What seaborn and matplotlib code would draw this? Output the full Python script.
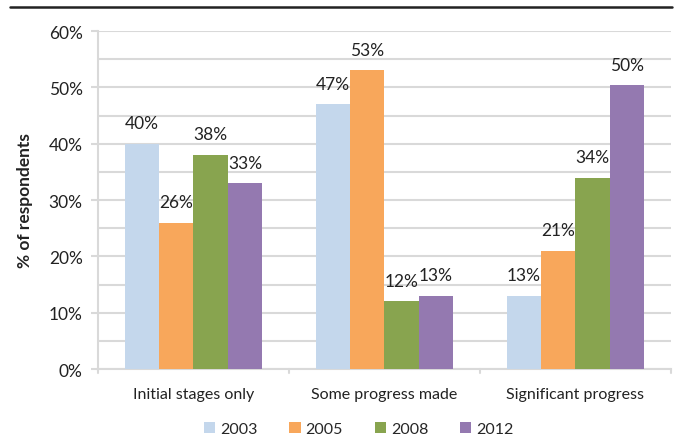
import matplotlib
matplotlib.use("Agg")
import matplotlib.pyplot as plt
import matplotlib.lines as mlines
import matplotlib.patches as mpatches
import seaborn as sns
import pandas as pd

categories = ["Initial stages only", "Some progress made", "Significant progress"]
years = ["2003", "2005", "2008", "2012"]
v2003 = [40, 47, 13]
v2005 = [26, 53, 21]
v2008 = [38, 12, 34]
v2012 = [33, 13, 50.4]
colors = ["#C4D7EC", "#F8A75B", "#88A44F", "#9479B0"]
yticks = [0, 10, 20, 30, 40, 50, 60]

rows = []
for yr, vals in zip(years, [v2003, v2005, v2008, v2012]):
    for c, v in zip(categories, vals):
        rows.append({"category": c, "year": yr, "value": v})
df = pd.DataFrame(rows)

sns.set_theme(style="white")
plt.rcParams["font.family"] = ["Lato", "DejaVu Sans"]

fig = plt.figure(figsize=(6.77, 4.39), dpi=100)
ax = fig.add_axes([0.1448, 0.157, 0.846, 0.770])

sns.barplot(data=df, x="category", y="value", hue="year", order=categories,
            hue_order=years, palette=colors, width=0.72, gap=0, ax=ax,
            legend=False, saturation=1, edgecolor="none", linewidth=0, zorder=3)

for cont in ax.containers:
    labels = [f"{b.get_height():.0f}%" for b in cont]
    ax.bar_label(cont, labels=labels, padding=9, fontsize=12.5, color="#222222")

ax.set_ylim(0, 60)
ax.set_xlim(-0.5, 2.5)
ax.set_yticks(yticks)
ax.set_yticklabels([f"{t}%" for t in yticks], fontsize=12.5, color="#222222")
ax.set_yticks([5, 15, 25, 35, 45, 55], minor=True)
ax.grid(axis="y", which="both", color="#D9D9D9", linewidth=1.5, zorder=0)
ax.set_axisbelow(True)

ax.set_xticks([0, 1, 2])
ax.set_xticklabels(categories, fontsize=11.5, color="#222222")
ax.tick_params(axis="x", length=0, pad=13)
ax.tick_params(axis="y", which="major", length=5, width=1.5, color="#D9D9D9",
               direction="out", pad=6, left=True)
ax.tick_params(axis="y", which="minor", length=0)

ax.set_xlabel("")
ax.set_ylabel("% of respondents", fontsize=12.5, fontweight="bold",
              color="#222222", labelpad=11)

for s in ["top", "right"]:
    ax.spines[s].set_visible(False)
for s in ["left", "bottom"]:
    ax.spines[s].set_color("#D9D9D9")
    ax.spines[s].set_linewidth(1.5)

# category separator ticks on the bottom axis
for xb in [-0.5, 0.5, 1.5, 2.5]:
    ax.plot([xb, xb], [0, -0.012], transform=ax.get_xaxis_transform(),
            color="#D9D9D9", linewidth=1.5, clip_on=False)

# legend
handles = [mpatches.Patch(facecolor=c, edgecolor="none", label=y)
           for c, y in zip(colors, years)]
fig.legend(handles=handles, loc="center", bbox_to_anchor=(0.53, 0.02),
           ncol=4, frameon=False, fontsize=11.5, handlelength=0.7,
           handleheight=0.7, handletextpad=0.3, columnspacing=2.0)

# top black rule
fig.add_artist(mlines.Line2D([0.015, 0.993], [0.982, 0.982],
                             transform=fig.transFigure, color="#222222",
                             linewidth=1.8))

fig.savefig("out.png", dpi=100)
